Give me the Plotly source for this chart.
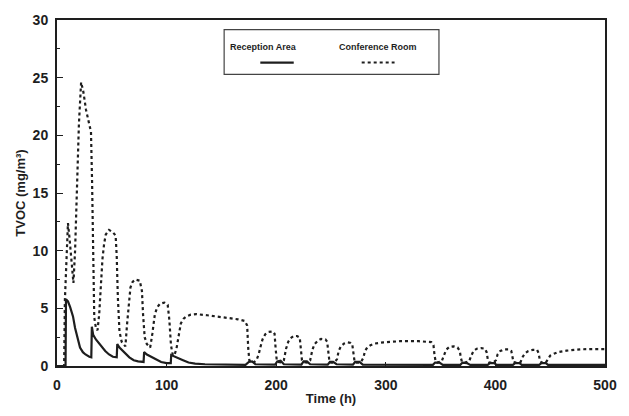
import plotly.graph_objects as go

series_names = ["Reception Area", "Conference Room"]

reception_hours = [0, 7.8, 8.2, 10, 12, 14.6, 16.5, 19, 21, 23.6, 26, 29.5, 31.3,
                   31.8, 33, 35.5, 38, 41.5, 44, 47.5, 51, 54.5,
                   55, 57, 60, 63, 66, 70, 74, 79,
                   79.5, 82, 86, 90, 95, 100, 103.8,
                   104.2, 107, 111, 115, 120, 126, 135, 150, 172,
                   175, 178, 181, 199, 201, 204, 207, 223, 225, 228, 231, 247,
                   249, 252, 255, 270, 272, 276, 279, 343, 345, 349, 352, 368,
                   370, 374, 377, 393, 395, 399, 401, 416, 418, 422, 424, 440,
                   442, 446, 448, 500]
reception_tvoc = [0, 0, 5.8, 5.6, 5.1, 4.3, 3.3, 2.3, 1.6, 1.2, 1.0, 0.8, 0.75,
                  3.4, 2.7, 2.3, 2.0, 1.6, 1.3, 1.0, 0.8, 0.75,
                  1.9, 1.6, 1.3, 1.0, 0.75, 0.5, 0.4, 0.35,
                  1.2, 1.0, 0.8, 0.55, 0.35, 0.25, 0.25,
                  0.95, 0.85, 0.7, 0.5, 0.3, 0.2, 0.15, 0.12, 0.1,
                  0.35, 0.4, 0.15, 0.12, 0.4, 0.45, 0.15, 0.12, 0.4, 0.4, 0.15, 0.12,
                  0.35, 0.35, 0.15, 0.12, 0.35, 0.35, 0.12, 0.1, 0.3, 0.3, 0.1, 0.1,
                  0.3, 0.25, 0.1, 0.1, 0.25, 0.25, 0.1, 0.1, 0.25, 0.25, 0.1, 0.1,
                  0.25, 0.25, 0.1, 0.1]

conference_hours = [0, 6.5, 7.2, 8.5, 10, 11.5, 13, 15, 16.5, 18, 20, 22, 24, 26.5, 29, 31,
                     32, 33, 34, 35.5, 37, 38.5, 40, 41.5, 43, 44.5, 47.5, 51, 53.5,
                     54.5, 55.5, 57, 59, 62.4,
                     64, 65.5, 67, 69, 71.5, 75.5, 77.5, 78.5, 80, 82, 85,
                     87, 89.3, 91.5, 94, 98, 101, 102.5, 104, 105.5, 107,
                     109, 111, 113, 115.5, 118, 122, 127, 137, 155, 165, 171.5,
                     173.5, 174.5, 175.5, 177, 180,
                     182, 184, 185.5, 187.5, 190, 193, 197, 198.5, 199.5, 200.5, 202, 205,
                     207, 209, 211, 213, 216, 219, 221.5, 222.5, 223.5, 225, 228,
                     231, 233, 235, 238, 241, 245, 246.5, 247.5, 248.5, 250, 253,
                     255.5, 257, 259, 262, 265, 268, 269.5, 270.5, 271.5, 273, 277,
                     279.5, 281, 283, 286, 290, 298, 313, 330, 341.5, 343.5, 344.5, 345.5, 347,
                     351, 353, 355, 358, 362, 365.5, 367.5, 368.5, 369.5, 372,
                     376, 378, 380, 383, 387, 390.5, 392, 393, 394.5, 398,
                     400.5, 402, 404.5, 408, 412, 414.5, 415.5, 416.5, 419,
                     423, 425, 427, 430, 434, 438, 439.5, 440.5, 442, 446,
                     448, 450, 453, 457, 465, 478, 490, 500]
conference_tvoc = [0, 0, 5.7, 9, 12.4, 11, 9, 7.2, 10, 15, 21, 24.6, 23.8, 22.2, 21, 20.3,
                   16, 9, 4.2, 3.3, 3.1, 4.5, 7.5, 9.3, 10.6, 11.4, 11.8, 11.6, 11.3,
                   9.5, 6, 3, 2.1, 1.7,
                   3.7, 5.5, 6.8, 7.3, 7.5, 7.4, 6.5, 4.5, 2.5, 1.9, 1.6,
                   2.8, 4.5, 5.1, 5.4, 5.5, 5.3, 4, 1.8, 1.0, 0.9,
                   1.5, 2.7, 3.7, 4.1, 4.3, 4.45, 4.5, 4.4, 4.2, 4.05, 3.9,
                   3.5, 1.5, 0.5, 0.3, 0.35,
                   0.5, 1.0, 1.6, 2.3, 2.75, 2.95, 3.0, 2.8, 1.5, 0.5, 0.35, 0.3,
                   0.5, 1.5, 2.1, 2.4, 2.6, 2.6, 2.45, 1.5, 0.5, 0.35, 0.3,
                   0.5, 1.4, 1.9, 2.2, 2.35, 2.3, 2.1, 1.2, 0.45, 0.3, 0.3,
                   0.6, 1.3, 1.7, 1.95, 2.05, 2.0, 1.8, 1.0, 0.4, 0.3, 0.3,
                   0.7, 1.3, 1.6, 1.8, 1.95, 2.05, 2.15, 2.15, 2.07, 1.8, 0.9, 0.4, 0.3,
                   0.4, 0.9, 1.4, 1.65, 1.7, 1.6, 1.3, 0.7, 0.35, 0.3,
                   0.4, 0.9, 1.3, 1.5, 1.55, 1.5, 1.2, 0.6, 0.3, 0.3,
                   0.5, 1.0, 1.3, 1.45, 1.45, 1.3, 0.8, 0.35, 0.3,
                   0.35, 0.8, 1.1, 1.3, 1.4, 1.4, 1.1, 0.5, 0.3, 0.3,
                   0.6, 0.9, 1.05, 1.2, 1.33, 1.45, 1.47, 1.47]

x_ticks = [0, 100, 200, 300, 400, 500]
y_ticks = [0, 5, 10, 15, 20, 25, 30]

INK = "#1e1e1e"
FONT = "Liberation Sans, Arial, sans-serif"

fig = go.Figure()
fig.add_trace(go.Scatter(x=reception_hours, y=reception_tvoc, mode="lines",
                         name=series_names[0], line=dict(color=INK, width=2.2),
                         showlegend=False))
fig.add_trace(go.Scatter(x=conference_hours, y=conference_tvoc, mode="lines",
                         name=series_names[1], line=dict(color=INK, width=2.2, dash="dot"),
                         showlegend=False))

# Legend box (drawn to match the original: label above line sample)
fig.add_shape(type="rect", xref="paper", yref="paper", x0=0.305, x1=0.697, y0=0.843, y1=0.972,
              line=dict(color="#444", width=1.2), fillcolor="white")
fig.add_shape(type="line", xref="paper", yref="paper", x0=0.371, x1=0.432, y0=0.877, y1=0.877,
              line=dict(color=INK, width=2.2))
fig.add_shape(type="line", xref="paper", yref="paper", x0=0.556, x1=0.616, y0=0.877, y1=0.877,
              line=dict(color=INK, width=2.0, dash="dot"))
fig.add_annotation(xref="paper", yref="paper", x=0.376, y=0.922, xanchor="center", yanchor="middle",
                   text=f"<b>{series_names[0]}</b>",
                   showarrow=False, font=dict(family=FONT, size=9, color=INK))
fig.add_annotation(xref="paper", yref="paper", x=0.585, y=0.922, xanchor="center", yanchor="middle",
                   text=f"<b>{series_names[1]}</b>",
                   showarrow=False, font=dict(family=FONT, size=9, color=INK))

fig.update_layout(
    width=629, height=416,
    margin=dict(l=57, r=14, t=17, b=42),
    paper_bgcolor="white", plot_bgcolor="white",
    font=dict(family=FONT, color=INK),
    xaxis=dict(range=[0, 500], tickvals=x_ticks, ticktext=[f"<b>{v}</b>" for v in x_ticks],
               ticks="inside", ticklen=4, tickcolor=INK, showgrid=False, zeroline=False,
               showline=True, mirror=True, linecolor=INK, linewidth=2,
               tickfont=dict(size=14, family=FONT), ticklabelstandoff=5,
               title=dict(text="<b>Time (h)</b>", font=dict(size=13, family=FONT), standoff=2)),
    yaxis=dict(range=[0, 30], tickvals=y_ticks, ticktext=[f"<b>{v}</b>" for v in y_ticks],
               ticks="inside", ticklen=6, tickcolor=INK, showgrid=False, zeroline=False,
               showline=True, mirror=True, linecolor=INK, linewidth=2,
               minor=dict(dtick=2.5, ticks="inside", ticklen=3, tickcolor=INK),
               tickfont=dict(size=14, family=FONT), ticklabelstandoff=4,
               title=dict(text="<b>TVOC (mg/m³)</b>", font=dict(size=13, family=FONT), standoff=4)),
)

fig.write_html("out.html")
